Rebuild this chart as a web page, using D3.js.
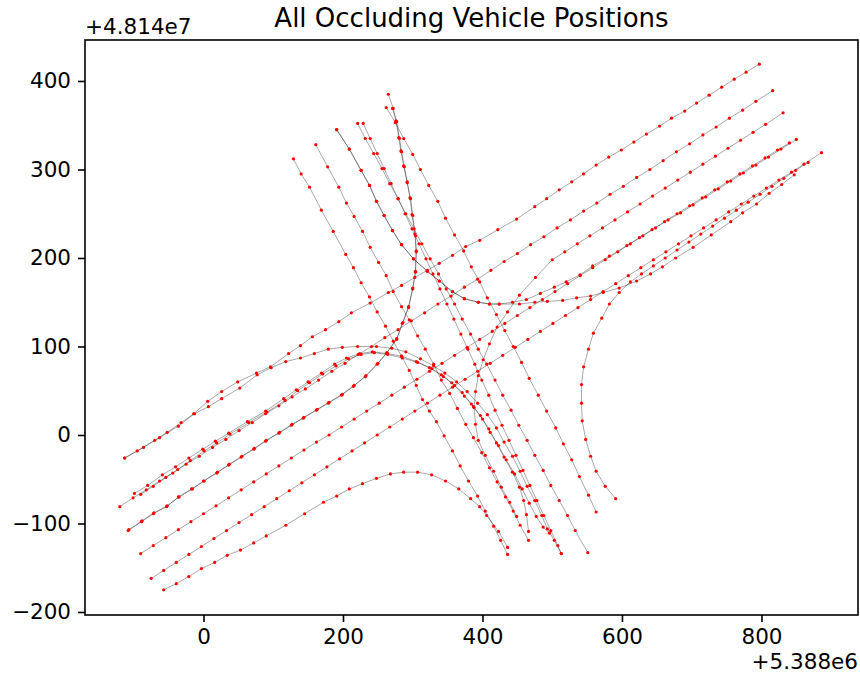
<!DOCTYPE html>
<html>
<head>
<meta charset="utf-8">
<script src="https://cdn.jsdelivr.net/npm/d3@7"></script>
<style>
  body { margin: 0; background: #fff; }
  text { font-family: "DejaVu Sans", sans-serif; fill: #000; }
</style>
</head>
<body>
<svg id="chart" width="860" height="679"></svg>
<script>
// Axis offsets (values below are relative to these)
const xOffsetLabel = "+5.388e6";
const yOffsetLabel = "+4.814e7";
const xTicks = [0, 200, 400, 600, 800];
const yTicks = [-200, -100, 0, 100, 200, 300, 400];
const chartTitle = "All Occluding Vehicle Positions";

// Vehicle trajectories: [easting, northing] relative to the offsets
const laneNE1 = [[-113,-26],[-95,-18],[-70,-6],[-52,3],[-32,14],[-14,24],[6,38],[26,49],[49,60],[76,70],[96,77],[122,92],[139,101],[156,111],[175,119],[194,128],[212,138],[239,149],[265,161],[284,169],[303,178],[321,186],[338,194],[357,203],[376,213],[396,220],[422,232],[449,244],[475,258],[492,267],[510,277],[528,286],[545,295],[563,305],[581,314],[599,322],[617,331],[635,340],[654,349],[671,358],[690,366],[707,375],[725,384],[743,393],[761,402],[778,410],[797,419]];

const arcRight1 = [[-113,-26],[-86,-14],[-63,-3],[-36,10],[-13,24],[7,32],[26,41],[52,53],[77,68],[97,76],[118,83],[139,87],[159,92],[179,97],[199,99],[221,100],[248,100],[270,98],[290,94],[311,86],[330,78],[346,70],[363,60],[378,49],[393,36],[407,23],[420,8],[431,-8],[443,-24],[454,-41],[464,-58],[475,-74],[485,-91],[493,-106],[503,-119],[513,-134]];

const laneNE2 = [[-120,-81],[-101,-71],[-82,-62],[-63,-52],[-44,-43],[-25,-33],[-6,-24],[13,-14],[32,-5],[51,5],[70,14],[89,24],[108,33],[127,43],[146,52],[165,62],[184,72],[203,81],[222,91],[241,100],[260,110],[279,119],[298,129],[317,138],[336,148],[355,157],[374,167],[393,176],[412,186],[431,196],[450,205],[469,215],[488,224],[507,234],[526,243],[545,253],[564,262],[583,272],[602,281],[621,291],[640,300],[659,310],[678,320],[697,329],[716,339],[735,348],[754,358],[773,367],[792,377],[816,389]];

const arcRight2 = [[-99,-66],[-80,-57],[-59,-45],[-40,-36],[-21,-26],[-1,-16],[17,-7],[36,2],[63,15],[89,27],[115,41],[133,51],[150,60],[169,70],[188,80],[205,87],[224,92],[242,94],[264,92],[284,89],[305,83],[324,76],[341,68],[356,59],[371,48],[384,35],[397,22],[409,7],[420,-9],[431,-25],[443,-42],[453,-59],[459,-74],[463,-90],[466,-109]];

const arcRight3 = [[-90,-67],[-72,-58],[-54,-48],[-37,-39],[-19,-29],[1,-18],[19,-9],[38,1],[65,14],[91,26],[117,39],[135,50],[152,59],[171,69],[190,78],[208,86],[226,91],[245,93],[264,91],[285,87],[307,82],[327,75],[344,66],[360,56],[374,44],[387,32],[400,18],[411,3],[423,-12],[434,-28],[446,-44],[457,-61],[467,-77],[477,-92],[487,-104],[496,-111]];

const leftTurn1 = [[-108,-108],[-89,-98],[-72,-89],[-53,-81],[-36,-70],[-17,-61],[0,-52],[19,-43],[36,-34],[54,-25],[72,-16],[89,-7],[108,2],[126,11],[143,19],[162,28],[179,36],[198,45],[215,55],[232,66],[249,80],[262,92],[277,108],[285,126],[294,144],[300,165],[304,184],[305,207],[304,225],[300,248],[297,267],[292,285],[288,303],[284,320],[281,335],[277,354],[272,369],[265,385]];

const leftTurn2 = [[-107,-107],[-88,-97],[-71,-88],[-52,-80],[-35,-70],[-16,-61],[1,-52],[20,-42],[37,-33],[55,-24],[73,-15],[90,-6],[109,3],[127,12],[144,20],[163,29],[180,37],[199,46],[216,56],[233,67],[250,81],[263,93],[277,109],[286,127],[294,145],[300,166],[304,185],[305,208],[303,227],[299,249],[296,268],[292,286],[287,304],[283,321],[280,336],[276,355],[271,369]];

const laneNE4 = [[-90,-134],[-72,-125],[-54,-116],[-36,-107],[-18,-98],[0,-89],[18,-80],[36,-71],[54,-62],[72,-53],[90,-44],[108,-35],[126,-26],[144,-17],[162,-8],[180,0],[198,9],[216,18],[234,27],[252,36],[270,45],[288,54],[306,63],[324,72],[342,81],[360,90],[378,99],[396,108],[414,117],[432,126],[450,135],[468,144],[486,153],[504,162],[522,171],[540,180],[558,189],[576,198],[594,207],[612,216],[630,225],[648,234],[666,243],[684,251],[702,260],[720,269],[738,278],[756,287],[774,296],[792,305],[810,314],[828,323],[850,334]];

const laneNE5 = [[-75,-162],[-57,-153],[-39,-144],[-21,-135],[-3,-126],[15,-117],[33,-108],[51,-99],[69,-90],[87,-81],[105,-72],[123,-63],[141,-54],[159,-45],[177,-36],[195,-27],[213,-18],[231,-9],[249,0],[267,9],[285,18],[303,27],[321,36],[339,45],[357,54],[375,63],[393,72],[411,81],[429,90],[447,99],[465,108],[483,117],[501,126],[519,135],[537,144],[555,153],[573,162],[591,171],[609,180],[627,189],[645,198],[663,207],[681,216],[699,225],[717,234],[735,243],[753,252],[771,261],[789,270],[807,279],[825,288],[843,297],[861,306],[886,319]];

const lowArc = [[-57,-175],[-39,-168],[-21,-160],[-3,-151],[16,-144],[34,-136],[53,-130],[72,-122],[90,-114],[118,-102],[145,-89],[172,-76],[191,-69],[209,-61],[228,-55],[248,-49],[268,-44],[287,-42],[307,-42],[327,-45],[347,-52],[366,-61],[383,-72],[396,-81],[406,-91],[423,-109],[436,-127]];

const laneSE1 = [[129,312],[140,295],[152,280],[169,254],[186,230],[204,204],[215,189],[226,172],[238,156],[249,139],[261,123],[272,106],[284,89],[295,73],[305,56],[314,40],[324,27],[334,15],[345,-1],[357,-18],[368,-35],[380,-52],[393,-69],[404,-86],[416,-103],[426,-119],[436,-135]];

const laneSE2 = [[161,328],[178,303],[194,280],[205,262],[216,247],[228,230],[239,212],[251,195],[262,180],[272,162],[284,145],[295,130],[307,112],[318,97],[330,80],[341,62],[353,47],[364,30],[376,12],[387,-3],[399,-20],[410,-37],[421,-53],[433,-70],[444,-86],[454,-102],[466,-119]];

const rightTurnA = [[191,345],[209,323],[226,299],[238,282],[248,264],[259,248],[271,231],[284,215],[301,199],[321,185],[338,174],[357,162],[374,154],[394,150],[410,148],[424,148],[443,150],[463,153],[483,160],[503,167],[520,173],[540,181],[558,191],[582,202],[607,214],[625,223],[643,232],[661,241],[679,250],[697,259],[715,268],[733,277],[751,286],[769,295],[787,304],[805,313],[823,322],[840,330]];

const rightTurnB = [[191,345],[209,323],[226,299],[238,282],[248,264],[259,248],[271,231],[284,215],[301,199],[321,185],[338,174],[357,162],[374,154],[394,150],[410,148],[424,148],[453,148],[475,150],[493,151],[515,152],[535,155],[555,157],[573,161],[596,166],[621,174],[641,182],[658,190],[677,200],[702,212],[728,226],[756,241],[773,251],[793,261],[811,273],[829,283],[847,294]];

const curveEast = [[591,-72],[576,-58],[563,-41],[555,-24],[548,-5],[543,16],[542,36],[542,57],[545,77],[552,97],[559,115],[571,132],[582,148],[596,161],[612,173],[628,182],[645,191],[662,200],[679,209],[696,218],[713,227],[730,236],[747,245],[764,254],[781,263],[798,272],[815,281],[832,290],[849,299],[867,308]];

const turnNorthEast = [[449,-92],[439,-76],[427,-59],[416,-41],[404,-23],[394,-6],[390,12],[388,31],[390,49],[394,67],[401,85],[410,103],[421,122],[436,139],[453,158],[476,178],[500,198],[518,207],[536,216],[554,225],[572,234],[590,243],[608,252],[626,261],[644,270],[662,279],[680,288],[698,297],[716,306],[734,315],[752,324],[770,333],[788,342],[806,351],[831,364]];

const laneSE3 = [[221,352],[232,335],[244,318],[256,301],[267,284],[279,267],[290,250],[302,233],[313,216],[325,199],[337,182],[348,165],[360,148],[371,131],[383,114],[394,97],[406,80],[418,62],[429,45],[441,28],[452,11],[464,-6],[475,-23],[487,-40],[498,-57],[510,-74],[522,-91],[533,-108],[551,-133]];

const laneSE4 = [[229,352],[239,335],[249,318],[259,301],[269,284],[279,267],[289,250],[299,233],[309,216],[319,199],[329,182],[339,165],[349,148],[359,131],[369,114],[379,97],[389,80],[399,62],[409,45],[418,28],[428,11],[438,-6],[448,-23],[458,-40],[468,-57],[478,-74],[488,-91],[498,-108],[508,-125],[513,-134]];

const laneSE5 = [[262,370],[275,353],[287,335],[300,317],[311,300],[323,282],[336,264],[347,245],[360,226],[373,208],[384,190],[396,173],[407,155],[420,136],[432,118],[444,100],[456,82],[467,64],[480,45],[492,27],[505,8],[516,-10],[528,-28],[539,-47],[552,-68],[563,-87]];

const tracks = [laneNE1, arcRight1, laneNE2, arcRight2, arcRight3, leftTurn1, leftTurn2,
  laneNE4, laneNE5, lowArc, laneSE1, laneSE2, rightTurnA, rightTurnB, curveEast,
  turnNorthEast, laneSE3, laneSE4, laneSE5];

const svg = d3.select("#chart");
const plot = { left: 85, right: 858, top: 40, bottom: 615 };

const x = d3.scaleLinear().domain([-169.9, 938.4]).range([plot.left, plot.right]);
const y = d3.scaleLinear().domain([-203.4, 446.3]).range([plot.bottom, plot.top]);

svg.append("defs").append("clipPath").attr("id", "plot-area")
  .append("rect")
  .attr("x", plot.left).attr("y", plot.top)
  .attr("width", plot.right - plot.left).attr("height", plot.bottom - plot.top);

const g = svg.append("g").attr("clip-path", "url(#plot-area)");
const line = d3.line().x(d => x(d[0])).y(d => y(d[1]));

// Trajectory lines, translucent so overlapping paths read darker
g.selectAll("path.track").data(tracks).join("path")
  .attr("class", "track")
  .attr("d", line)
  .attr("fill", "none")
  .attr("stroke", "#000")
  .attr("stroke-opacity", 0.38)
  .attr("stroke-width", 0.9);

// Position samples
g.selectAll("g.pts").data(tracks).join("g").attr("class", "pts")
  .selectAll("circle").data(d => d).join("circle")
  .attr("cx", d => x(d[0]))
  .attr("cy", d => y(d[1]))
  .attr("r", 1.6)
  .attr("fill", "#ff0000");

// Frame
svg.append("rect")
  .attr("x", plot.left).attr("y", plot.top)
  .attr("width", plot.right - plot.left).attr("height", plot.bottom - plot.top)
  .attr("fill", "none").attr("stroke", "#000").attr("stroke-width", 1.6);

const fmt = d3.format("d");
const xAxis = svg.append("g")
  .attr("transform", `translate(0,${plot.bottom})`)
  .call(d3.axisBottom(x).tickValues(xTicks).tickFormat(fmt).tickSize(7).tickPadding(7).tickSizeOuter(0));
const yAxis = svg.append("g")
  .attr("transform", `translate(${plot.left},0)`)
  .call(d3.axisLeft(y).tickValues(yTicks).tickFormat(fmt).tickSize(7).tickPadding(7).tickSizeOuter(0));

[xAxis, yAxis].forEach(ax => {
  ax.select(".domain").remove();
  ax.selectAll(".tick line").attr("stroke", "#000").attr("stroke-width", 1.6);
  ax.selectAll(".tick text").attr("font-size", 21.5).attr("font-family", "DejaVu Sans").attr("fill", "#000");
});

svg.append("text")
  .attr("x", (plot.left + plot.right) / 2).attr("y", 27)
  .attr("text-anchor", "middle").attr("font-size", 26)
  .text(chartTitle);

svg.append("text")
  .attr("x", plot.left).attr("y", 34)
  .attr("font-size", 21.5)
  .text(yOffsetLabel);

svg.append("text")
  .attr("x", plot.right).attr("y", 669)
  .attr("text-anchor", "end").attr("font-size", 21.5)
  .text(xOffsetLabel);
</script>
</body>
</html>
